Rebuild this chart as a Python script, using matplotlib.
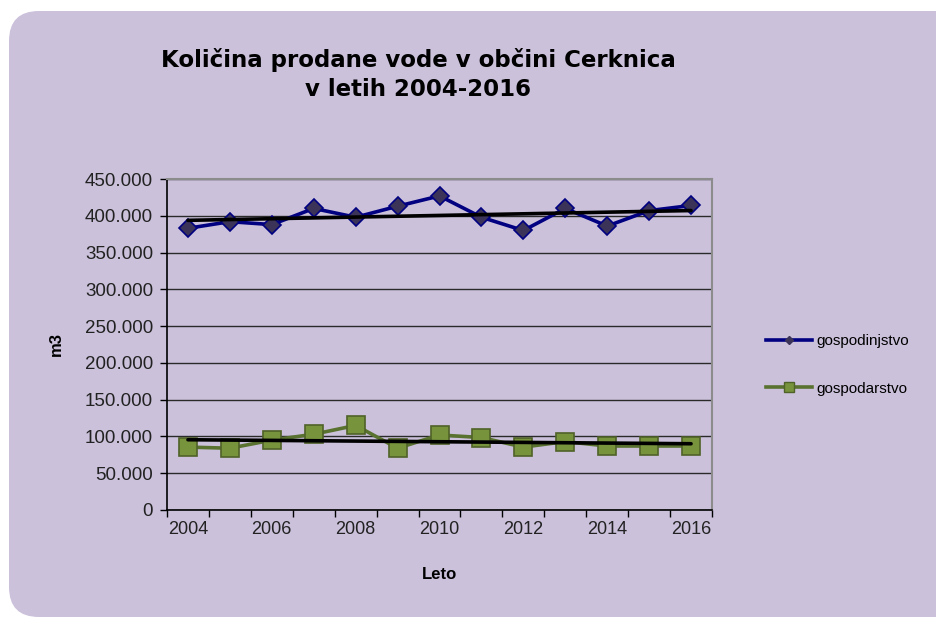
import numpy as np
import matplotlib
matplotlib.use("Agg")
import matplotlib.pyplot as plt
from matplotlib.patches import FancyBboxPatch
from matplotlib.ticker import FuncFormatter, MultipleLocator, FixedLocator

years = np.arange(2004, 2017)
gospodinjstvo = [383000, 392000, 388000, 410000, 398000, 413000, 427000,
                 398000, 380000, 410000, 386000, 407000, 414000]
gospodarstvo = [85500, 84000, 95000, 103000, 115000, 84000, 102000,
                98500, 85500, 93000, 87000, 87000, 87000]
year_labels = [2004, 2006, 2008, 2010, 2012, 2014, 2016]

BG = "#CBC1DB"
W, H = 937, 619

plt.rcParams["font.family"] = ["Liberation Sans", "DejaVu Sans"]

fig = plt.figure(figsize=(W / 100, H / 100), dpi=100)
fig.patch.set_facecolor("white")

# rounded chart-area background (display coords, origin bottom-left)
box = FancyBboxPatch((9, 2), 960, 606, boxstyle="round,pad=0,rounding_size=30",
                     transform=None, facecolor=BG, edgecolor="none", zorder=-5)
fig.patches.append(box)

ax = fig.add_axes([167 / W, (H - 510) / H, (712 - 167) / W, (510 - 179) / H])
ax.set_facecolor(BG)

ax.set_xlim(2003.5, 2016.5)
ax.set_ylim(0, 450000)
ax.yaxis.set_major_locator(MultipleLocator(50000))
ax.yaxis.set_major_formatter(FuncFormatter(
    lambda v, _: "0" if v == 0 else f"{int(v):,}".replace(",", ".")))
ax.xaxis.set_major_locator(FixedLocator(year_labels))
ax.xaxis.set_minor_locator(FixedLocator(np.arange(2003.5, 2017, 1.0)))
ax.tick_params(axis="x", which="major", length=0, pad=8, labelsize=13, colors="#222222")
ax.tick_params(axis="x", which="minor", length=5, width=1, color="black", direction="out")
ax.tick_params(axis="y", which="major", length=5, width=1, color="black", pad=5,
               labelsize=13.5, labelcolor="#222222")

ax.grid(True, axis="y", color="#2a2a2a", linewidth=1)
ax.set_axisbelow(True)
for side in ("top", "right"):
    ax.spines[side].set_color("#8c8c8c")
    ax.spines[side].set_linewidth(1.5)
for side in ("left", "bottom"):
    ax.spines[side].set_color("black")
    ax.spines[side].set_linewidth(1.2)

ax.plot(years, gospodinjstvo, color="#000080", linewidth=2.6, marker="D",
        markersize=9, markerfacecolor="#3B3358", markeredgecolor="#000080",
        markeredgewidth=1.2, label="gospodinjstvo", zorder=3)
ax.plot(years, gospodarstvo, color="#5A7230", linewidth=2.6, marker="s",
        markersize=12.5, markerfacecolor="#77933C", markeredgecolor="#4F6228",
        markeredgewidth=1.2, label="gospodarstvo", zorder=3)

# linear trendlines
for series in (gospodinjstvo, gospodarstvo):
    k, n = np.polyfit(years, series, 1)
    ax.plot(years, k * years + n, color="black", linewidth=2.6, zorder=4,
            solid_capstyle="round")

ax.set_ylabel("m3", fontsize=12, fontweight="bold")
ax.yaxis.set_label_coords(-103 / (712 - 167), 0.5)
ax.set_xlabel("Leto", fontsize=12, fontweight="bold")
ax.xaxis.set_label_coords(0.5, -(567 - 510) / (510 - 179))

for txt, y in (("Količina prodane vode v občini Cerknica", 60), ("v letih 2004-2016", 89)):
    fig.text(418 / W, 1 - y / H, txt, ha="center", va="center", fontsize=16.5,
             fontweight="bold", family=["DejaVu Sans"])

h1 = plt.Line2D([], [], color="#000080", linewidth=2.6, marker="D", markersize=4,
                markerfacecolor="#3B3358", markeredgecolor="#3B3358")
h2 = plt.Line2D([], [], color="#5A7230", linewidth=2.6, marker="s", markersize=7,
                markerfacecolor="#77933C", markeredgecolor="#4F6228")
fig.legend([h1, h2], ["gospodinjstvo", "gospodarstvo"], loc="center left",
           bbox_to_anchor=(752 / W, 1 - 365 / H), frameon=False, fontsize=11,
           handlelength=3.0, handletextpad=0.3, labelspacing=2.2)

fig.savefig("out.png", dpi=100, facecolor="white")
